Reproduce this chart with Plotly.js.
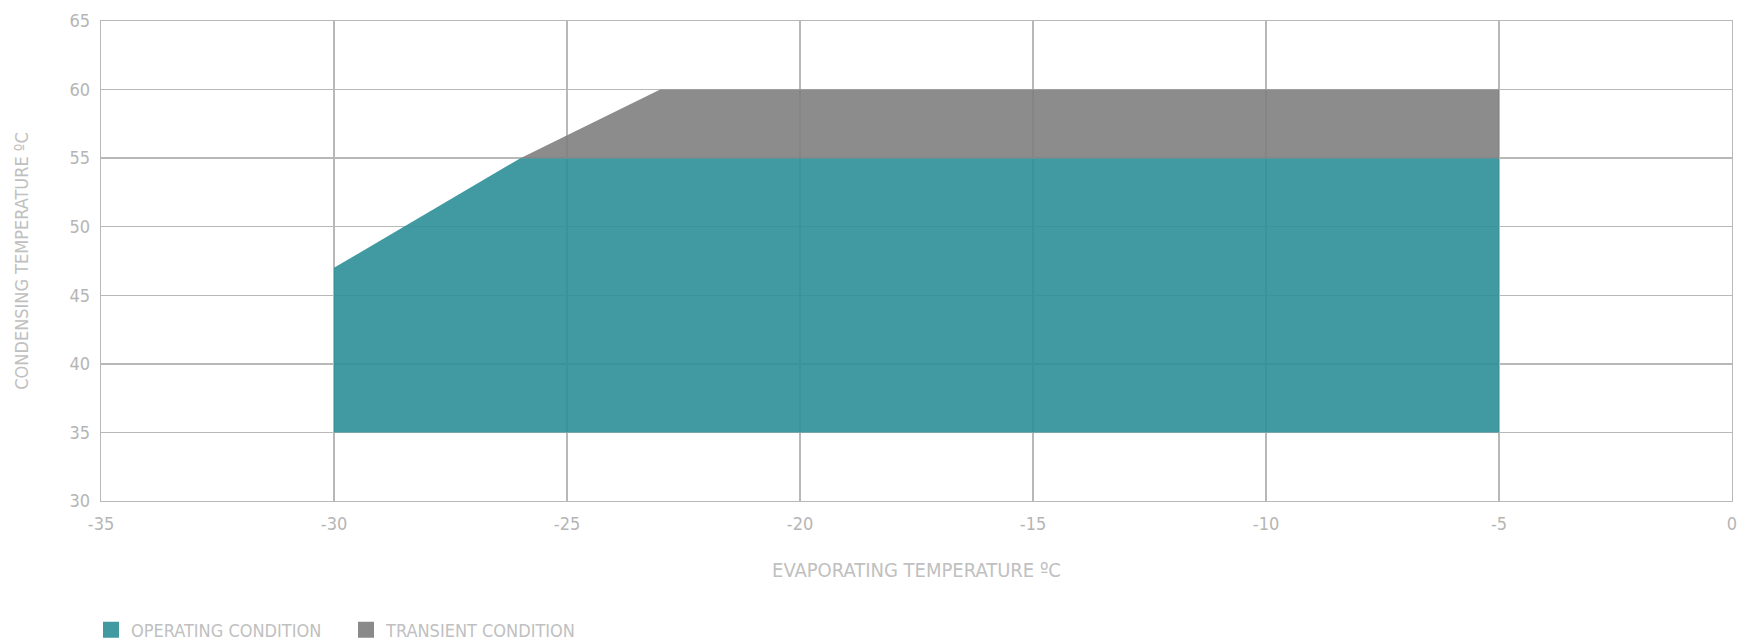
<!DOCTYPE html>
<html>
<head>
<meta charset="utf-8">
<script src="https://cdn.plot.ly/plotly-3.0.1.min.js"></script>
<style>html,body{margin:0;padding:0;background:#fff;}#chart{width:1746px;height:641px;}</style>
</head>
<body>
<div id="chart"></div>
<script>
// Operating envelope (evaporating °C, condensing °C)
const operatingEvap = [-30, -30, -26, -5, -5, -30];
const operatingCond = [35, 47, 55, 55, 35, 35];
const transientEvap = [-26, -23, -5, -5, -26];
const transientCond = [55, 60, 60, 55, 55];
const seriesNames = ['OPERATING CONDITION', 'TRANSIENT CONDITION'];
const xTicks = [-35, -30, -25, -20, -15, -10, -5, 0];
const yTicks = [30, 35, 40, 45, 50, 55, 60, 65];

const teal = 'rgba(44,142,152,0.9)';
const grey = 'rgba(127,127,127,0.9)';
const legendTeal = '#4199a2';
const legendGrey = '#8a8a8a';
const gridCol = '#b8b8b8';
const tickCol = '#b5b5b5';
const textCol = '#c0c0c0';
const FONT = 'Liberation Sans Narrow, DejaVu Sans Condensed, sans-serif';

const traces = [
  {x: operatingEvap, y: operatingCond, type: 'scatter', mode: 'none', fill: 'toself', fillcolor: teal, showlegend: false, hoverinfo: 'skip'},
  {x: transientEvap, y: transientCond, type: 'scatter', mode: 'none', fill: 'toself', fillcolor: grey, showlegend: false, hoverinfo: 'skip'},
  {x: [null], y: [null], type: 'scatter', mode: 'markers', name: seriesNames[0], marker: {symbol: 'square', size: 19, color: legendTeal}},
  {x: [null], y: [null], type: 'scatter', mode: 'markers', name: seriesNames[1], marker: {symbol: 'square', size: 19, color: legendGrey}}
];

const layout = {
  width: 1746, height: 641,
  margin: {l: 101, r: 14, t: 21, b: 140},
  paper_bgcolor: '#fff', plot_bgcolor: '#fff',
  font: {family: FONT, size: 18, color: textCol},
  showlegend: true,
  legend: {orientation: 'h', xref: 'container', yref: 'container',
           x: 91 / 1746, xanchor: 'left', y: 11 / 641, yanchor: 'middle',
           entrywidth: 210, entrywidthmode: 'pixels',
           font: {family: FONT, size: 18, color: textCol}, itemwidth: 30, tracegroupgap: 0},
  xaxis: {
    range: [-35, 0], tickmode: 'array', tickvals: xTicks, ticktext: xTicks.map(String),
    showgrid: true, gridcolor: gridCol, gridwidth: 1.3,
    showline: true, linecolor: gridCol, linewidth: 1.3, mirror: true,
    zeroline: false, ticks: '', ticklabelstandoff: 6,
    tickfont: {family: FONT, size: 18, color: tickCol},
    title: {text: 'EVAPORATING TEMPERATURE ºC', standoff: 30, font: {family: FONT, size: 20, color: textCol}}
  },
  yaxis: {
    range: [30, 65], tickmode: 'array', tickvals: yTicks, ticktext: yTicks.map(String),
    showgrid: true, gridcolor: gridCol, gridwidth: 1.3,
    showline: true, linecolor: gridCol, linewidth: 1.3, mirror: true,
    zeroline: false, ticks: '', ticklabelstandoff: 6,
    tickfont: {family: FONT, size: 18, color: tickCol},
    title: {text: 'CONDENSING TEMPERATURE ºC', standoff: 36, font: {family: FONT, size: 18, color: textCol}}
  }
};

Plotly.newPlot('chart', traces, layout, {displayModeBar: false, staticPlot: true});
</script>
</body>
</html>
